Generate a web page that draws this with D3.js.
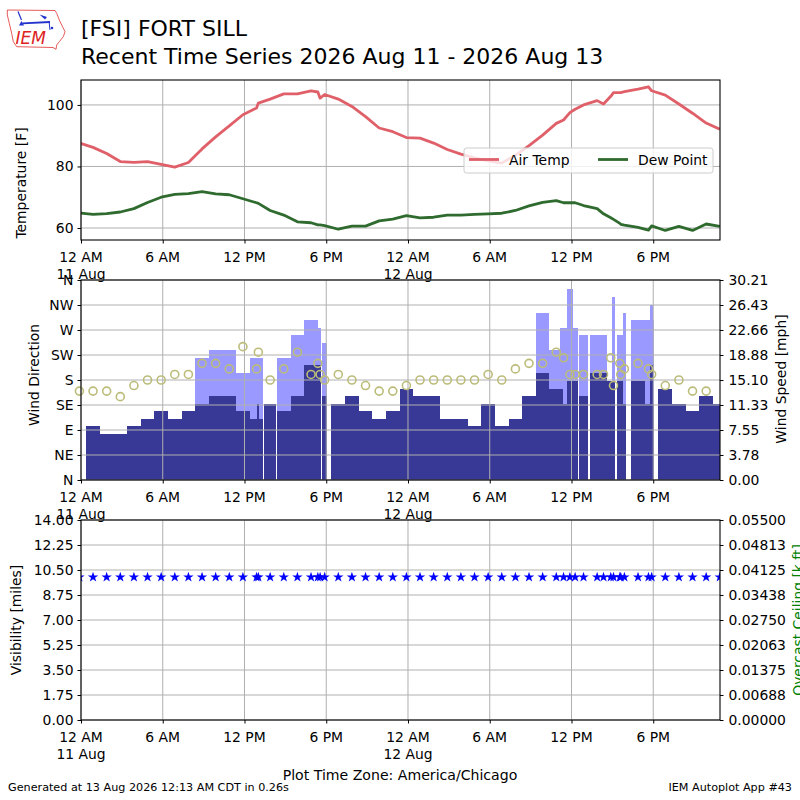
<!DOCTYPE html>
<html><head><meta charset="utf-8">
<script src="https://cdn.jsdelivr.net/npm/d3@7"></script>
<style>
body{margin:0;background:#fff}
text{font-family:"DejaVu Sans",sans-serif;fill:#000}
</style>
</head><body>
<svg id="c" width="800" height="800" xmlns="http://www.w3.org/2000/svg"></svg>
<script>
// ---------------- DATA ----------------
const obsTimes = [
"2026-08-10 23:53",
"2026-08-11 00:53","2026-08-11 01:53","2026-08-11 02:53","2026-08-11 03:53","2026-08-11 04:53",
"2026-08-11 05:53","2026-08-11 06:53","2026-08-11 07:53","2026-08-11 08:53","2026-08-11 09:53",
"2026-08-11 10:53","2026-08-11 11:53","2026-08-11 12:53","2026-08-11 13:01","2026-08-11 13:53",
"2026-08-11 14:53","2026-08-11 15:53","2026-08-11 16:53","2026-08-11 17:23","2026-08-11 17:33",
"2026-08-11 17:53","2026-08-11 18:53","2026-08-11 19:53","2026-08-11 20:53","2026-08-11 21:53",
"2026-08-11 22:53","2026-08-11 23:53",
"2026-08-12 00:53","2026-08-12 01:53","2026-08-12 02:53","2026-08-12 03:53","2026-08-12 04:53",
"2026-08-12 05:53","2026-08-12 06:53","2026-08-12 07:53","2026-08-12 08:53","2026-08-12 09:53",
"2026-08-12 10:53","2026-08-12 11:25","2026-08-12 11:53","2026-08-12 12:16","2026-08-12 12:53",
"2026-08-12 13:53","2026-08-12 14:21","2026-08-12 14:53","2026-08-12 15:05","2026-08-12 15:33",
"2026-08-12 15:37","2026-08-12 15:53","2026-08-12 16:53","2026-08-12 17:39","2026-08-12 17:53",
"2026-08-12 18:53","2026-08-12 19:53","2026-08-12 20:53","2026-08-12 21:53","2026-08-12 22:53"
];
const airTemp = [
87.6,
86.2,84.2,81.6,81.3,81.6,80.7,79.8,81.3,85.7,89.6,93.2,96.8,99.0,100.6,101.9,
103.6,103.6,104.6,104.2,102.2,103.4,101.9,99.5,96.2,92.5,91.3,89.4,
89.2,87.6,85.5,84.0,82.8,81.8,81.1,83.6,86.8,90.2,94.0,95.1,97.5,98.6,100.0,
101.4,100.3,102.8,104.0,104.0,104.0,104.3,105.1,105.9,104.6,103.2,100.3,97.3,94.1,92.1
];
const dewPoint = [
64.9,
64.4,64.7,65.2,66.3,68.3,70.0,70.9,71.2,71.8,71.1,70.8,69.5,68.2,68.0,65.7,
64.2,62.0,61.7,61.0,61.0,60.8,59.6,60.6,60.6,62.3,62.9,64.0,
63.3,63.5,64.2,64.2,64.4,64.6,64.8,65.7,67.2,68.3,68.9,68.2,68.2,68.2,67.3,
66.3,64.6,63.3,62.8,61.5,61.2,60.9,60.2,59.3,60.7,59.2,60.5,59.2,61.3,60.5
];
const windDir = [
160,
160,160,150,170,180,180,190,190,210,210,200,240,200,230,180,
200,230,190,210,190,180,190,180,170,160,160,170,
180,180,180,180,180,190,180,200,210,210,230,220,190,190,
190,190,190,220,170,210,190,200,210,200,190,170,180,160,160
];
const windSpeedMph = [
8.1,
8.1,6.9,6.9,8.1,9.2,10.4,9.2,10.4,11.5,12.7,12.7,10.4,9.2,11.5,11.5,
10.4,12.7,17.3,17.3,17.3,12.7,11.5,12.7,10.4,9.2,10.4,13.8,
12.7,12.7,9.2,9.2,8.1,11.5,8.1,9.2,12.7,16.1,13.8,11.5,15.0,15.0,12.7,
16.1,16.1,15.0,15.0,15.0,15.0,11.5,15.0,11.5,17.3,13.8,11.5,10.4,12.7,11.5
];
const windGustMph = [
null,
null,null,null,null,null,null,null,null,18.4,19.6,19.6,16.1,18.4,18.4,null,
18.4,21.9,24.2,23.0,23.0,20.7,null,null,null,null,null,null,
null,null,null,null,null,null,null,null,null,25.3,19.6,23.0,28.8,23.0,21.9,
21.9,21.9,null,27.6,21.9,21.9,25.3,24.2,24.2,26.5,null,null,null,null,null
];
const visibilityMiles = [
10,
10,10,10,10,10,10,10,10,10,10,10,10,10,10,10,
10,10,10,10,10,10,10,10,10,10,10,10,
10,10,10,10,10,10,10,10,10,10,10,10,10,10,10,
10,10,10,10,10,10,10,10,10,10,10,10,10,10,10
];
const timeDomain = ["2026-08-11 00:00","2026-08-12 22:54"];
const tempTicks = [60,80,100];
const dirTickValues = [0,45,90,135,180,225,270,315,360];
const dirTickLabels = ["N","NE","E","SE","S","SW","W","NW","N"];
const speedTickLabels = ["0.00","3.78","7.55","11.33","15.10","18.88","22.66","26.43","30.21"];
const visTickLabels = ["0.00","1.75","3.50","5.25","7.00","8.75","10.50","12.25","14.00"];
const ceilTickLabels = ["0.00000","0.00688","0.01375","0.02063","0.02750","0.03438","0.04125","0.04813","0.05500"];

// ---------------- SETUP ----------------
const parse = d3.timeParse("%Y-%m-%d %H:%M");
const times = obsTimes.map(parse);
const svg = d3.select("#c");
const L = 81, R = 720;
const FS = "13.9px";
const gridColor = "#b0b0b0";

const x = d3.scaleTime().domain(timeDomain.map(parse)).range([L, R]);
const xTicks = x.ticks(d3.timeHour.every(6));
const fmtHour = d3.timeFormat("%-I %p");
const fmtDay = d3.timeFormat("%d %b");

const panels = {
  temp: {top: 80, bottom: 240},
  wind: {top: 280, bottom: 480},
  vis:  {top: 520, bottom: 720}
};

const defs = svg.append("defs");
Object.entries(panels).forEach(([k,p]) => {
  defs.append("clipPath").attr("id","clip-"+k).append("rect")
    .attr("x",L).attr("y",p.top).attr("width",R-L).attr("height",p.bottom-p.top);
});

function styleAxis(g){
  g.attr("font-family","DejaVu Sans").attr("font-size",FS);
  g.select(".domain").remove();
  g.selectAll(".tick line").attr("stroke","#000").attr("stroke-width",1);
  g.selectAll(".tick text").attr("fill","#000");
}

function vGrid(p){
  svg.append("g").selectAll("line").data(xTicks).join("line")
    .attr("x1",d=>x(d)).attr("x2",d=>x(d)).attr("y1",p.top).attr("y2",p.bottom)
    .attr("stroke",gridColor).attr("stroke-width",1);
}
function hGrid(p, scale, vals){
  svg.append("g").selectAll("line").data(vals).join("line")
    .attr("x1",L).attr("x2",R).attr("y1",d=>scale(d)).attr("y2",d=>scale(d))
    .attr("stroke",gridColor).attr("stroke-width",1);
}
function frame(p){
  svg.append("rect").attr("x",L).attr("y",p.top).attr("width",R-L).attr("height",p.bottom-p.top)
    .attr("fill","none").attr("stroke","#000").attr("stroke-width",1.1);
}
function xAxis(p){
  const g = svg.append("g").attr("transform",`translate(0,${p.bottom})`)
    .call(d3.axisBottom(x).tickValues(xTicks).tickSize(3.5).tickFormat(""));
  styleAxis(g);
  const lab = svg.append("g").attr("font-size",FS);
  xTicks.forEach(t => {
    lab.append("text").attr("x",x(t)).attr("y",p.bottom+22).attr("text-anchor","middle").text(fmtHour(t));
    if (t.getHours() === 0)
      lab.append("text").attr("x",x(t)).attr("y",p.bottom+38.5).attr("text-anchor","middle").text(fmtDay(t));
  });
}
function yLabel(txt, cx, cy, color){
  svg.append("text").attr("transform",`translate(${cx},${cy}) rotate(-90)`)
    .attr("text-anchor","middle").attr("font-size",FS).style("fill",color||"#000").text(txt);
}

// ---------------- PANEL 1: temperatures ----------------
const pT = panels.temp;
const yT = d3.scaleLinear().domain([56.1,108.1]).range([pT.bottom,pT.top]);
vGrid(pT); hGrid(pT, yT, tempTicks);
const lineT = d3.line().x((d,i)=>x(times[i])).y(d=>yT(d));
const gT = svg.append("g").attr("clip-path","url(#clip-temp)");
gT.append("path").datum(airTemp).attr("d",lineT).attr("fill","none")
  .attr("stroke","#e0606a").attr("stroke-width",2.8).attr("stroke-linejoin","round");
gT.append("path").datum(dewPoint).attr("d",lineT).attr("fill","none")
  .attr("stroke","#2f6b2f").attr("stroke-width",2.8).attr("stroke-linejoin","round");
frame(pT);
styleAxis(svg.append("g").attr("transform",`translate(${L},0)`)
  .call(d3.axisLeft(yT).tickValues(tempTicks).tickSize(3.5).tickPadding(4).tickFormat(d3.format("d"))));
xAxis(pT);
yLabel("Temperature [F]", 26, 183);

// legend
const lg = svg.append("g");
lg.append("rect").attr("x",464).attr("y",148).attr("width",249).attr("height",25).attr("rx",2.5)
  .attr("fill","#fff").attr("fill-opacity",0.8).attr("stroke","#cccccc").attr("stroke-width",1);
lg.append("line").attr("x1",469).attr("x2",499).attr("y1",159.5).attr("y2",159.5)
  .attr("stroke","#e0606a").attr("stroke-width",2.8);
lg.append("text").attr("x",509).attr("y",164.5).attr("font-size",FS).text("Air Temp");
lg.append("line").attr("x1",598).attr("x2",628).attr("y1",159.5).attr("y2",159.5)
  .attr("stroke","#2f6b2f").attr("stroke-width",2.8);
lg.append("text").attr("x",638).attr("y",164.5).attr("font-size",FS).text("Dew Point");

// ---------------- PANEL 2: wind ----------------
const pW = panels.wind;
const yDir = d3.scaleLinear().domain([0,360]).range([pW.bottom,pW.top]);
const ySpd = d3.scaleLinear().domain([0,30.21]).range([pW.bottom,pW.top]);
const barData = times.map((t,i) => {
  if (i === 0) return null;
  const half = (t - times[i-1]) / 2;
  return {x0: x(new Date(+t - half)), x1: x(new Date(+t + half)), spd: windSpeedMph[i], gust: windGustMph[i]};
}).filter(d => d);
const gW = svg.append("g").attr("clip-path","url(#clip-wind)");
gW.selectAll("rect.g").data(barData.filter(d=>d.gust!=null)).join("rect").attr("class","g")
  .attr("x",d=>d.x0).attr("width",d=>d.x1-d.x0).attr("y",d=>ySpd(d.gust))
  .attr("height",d=>ySpd(0)-ySpd(d.gust)).attr("fill","#9999ff").attr("shape-rendering","crispEdges");
gW.selectAll("rect.s").data(barData).join("rect").attr("class","s")
  .attr("x",d=>d.x0).attr("width",d=>d.x1-d.x0).attr("y",d=>ySpd(d.spd))
  .attr("height",d=>ySpd(0)-ySpd(d.spd)).attr("fill","#383896").attr("shape-rendering","crispEdges");
vGrid(pW); hGrid(pW, yDir, dirTickValues);
svg.append("g").selectAll("circle").data(windDir).join("circle")
  .attr("cx",(d,i)=>x(times[i])).attr("cy",d=>yDir(d)).attr("r",4)
  .attr("fill","none").attr("stroke","#bcbc7a").attr("stroke-width",1.6);
frame(pW);
styleAxis(svg.append("g").attr("transform",`translate(${L},0)`)
  .call(d3.axisLeft(yDir).tickValues(dirTickValues).tickSize(3.5).tickPadding(4)
    .tickFormat((d,i)=>dirTickLabels[i])));
styleAxis(svg.append("g").attr("transform",`translate(${R},0)`)
  .call(d3.axisRight(ySpd).tickValues(speedTickLabels.map(Number)).tickSize(3.5).tickPadding(5)
    .tickFormat((d,i)=>speedTickLabels[i])));
xAxis(pW);
yLabel("Wind Direction", 38.5, 375);
yLabel("Wind Speed [mph]", 786, 379);

// ---------------- PANEL 3: visibility ----------------
const pV = panels.vis;
const yVis = d3.scaleLinear().domain([0,14]).range([pV.bottom,pV.top]);
const yCeil = d3.scaleLinear().domain([0,0.055]).range([pV.bottom,pV.top]);
vGrid(pV); hGrid(pV, yVis, visTickLabels.map(Number));
const star = d3.symbol().type(d3.symbolStar).size(34);
svg.append("g").attr("clip-path","url(#clip-vis)").selectAll("path").data(visibilityMiles).join("path")
  .attr("d",star).attr("transform",(d,i)=>`translate(${x(times[i])},${yVis(d)})`).attr("fill","#0000ff");
frame(pV);
styleAxis(svg.append("g").attr("transform",`translate(${L},0)`)
  .call(d3.axisLeft(yVis).tickValues(visTickLabels.map(Number)).tickSize(3.5).tickPadding(4)
    .tickFormat((d,i)=>visTickLabels[i])));
styleAxis(svg.append("g").attr("transform",`translate(${R},0)`)
  .call(d3.axisRight(yCeil).tickValues(ceilTickLabels.map(Number)).tickSize(3.5).tickPadding(5)
    .tickFormat((d,i)=>ceilTickLabels[i])));
xAxis(pV);
yLabel("Visibility [miles]", 21, 620);
yLabel("Overcast Ceiling [k ft]", 803, 620, "#008000");

// ---------------- TITLES / FOOTER ----------------
svg.append("text").attr("x",81).attr("y",36).attr("font-size","22px").text("[FSI] FORT SILL");
svg.append("text").attr("x",81).attr("y",64).attr("font-size","22px")
  .text("Recent Time Series 2026 Aug 11 - 2026 Aug 13");
svg.append("text").attr("x",400).attr("y",780).attr("text-anchor","middle").attr("font-size","14.1px")
  .text("Plot Time Zone: America/Chicago");
svg.append("text").attr("x",8).attr("y",791).attr("font-size","11.2px")
  .text("Generated at 13 Aug 2026 12:13 AM CDT in 0.26s");
svg.append("text").attr("x",792).attr("y",791).attr("text-anchor","end").attr("font-size","11.2px")
  .text("IEM Autoplot App #43");

// ---------------- LOGO ----------------
const logo = svg.append("g");
logo.append("path")
  .attr("d","M7.3,10 L55,10.5 L56.7,13.3 L59.3,20 L61.7,25 L65,31.7 L63.3,36.7 L59.3,41.7 L56.7,45 L56,49.3 L53,47.5 L16.7,46.7 L13.3,41.7 L11.7,33.3 L9.3,23.3 L7.3,15 Z")
  .attr("fill","none").attr("stroke","#e03030").attr("stroke-width",0.8);
logo.append("text").attr("x",15.5).attr("y",44).attr("font-family","Liberation Serif, serif")
  .attr("font-style","italic").attr("font-size","17px").style("fill","#dd2222").text("IEM");
logo.append("line").attr("x1",18).attr("y1",11.5).attr("x2",21.5).attr("y2",20)
  .attr("stroke","#2233cc").attr("stroke-width",1.2);
logo.append("line").attr("x1",22.5).attr("y1",23.3).attr("x2",50).attr("y2",22)
  .attr("stroke","#2233cc").attr("stroke-width",1.8);
logo.append("path").attr("d","M39.5,14.5 L47,17 L45,19.5 Z").attr("fill","#2233cc");
logo.append("path").attr("d","M19,25.5 L21.5,21 L24,25.5 Z").attr("fill","#2233cc");
logo.append("line").attr("x1",49).attr("y1",21).attr("x2",50).attr("y2",30)
  .attr("stroke","#2233cc").attr("stroke-width",1);
logo.append("circle").attr("cx",52).attr("cy",28).attr("r",1.3).attr("fill","#2233cc");
</script>
</body></html>
